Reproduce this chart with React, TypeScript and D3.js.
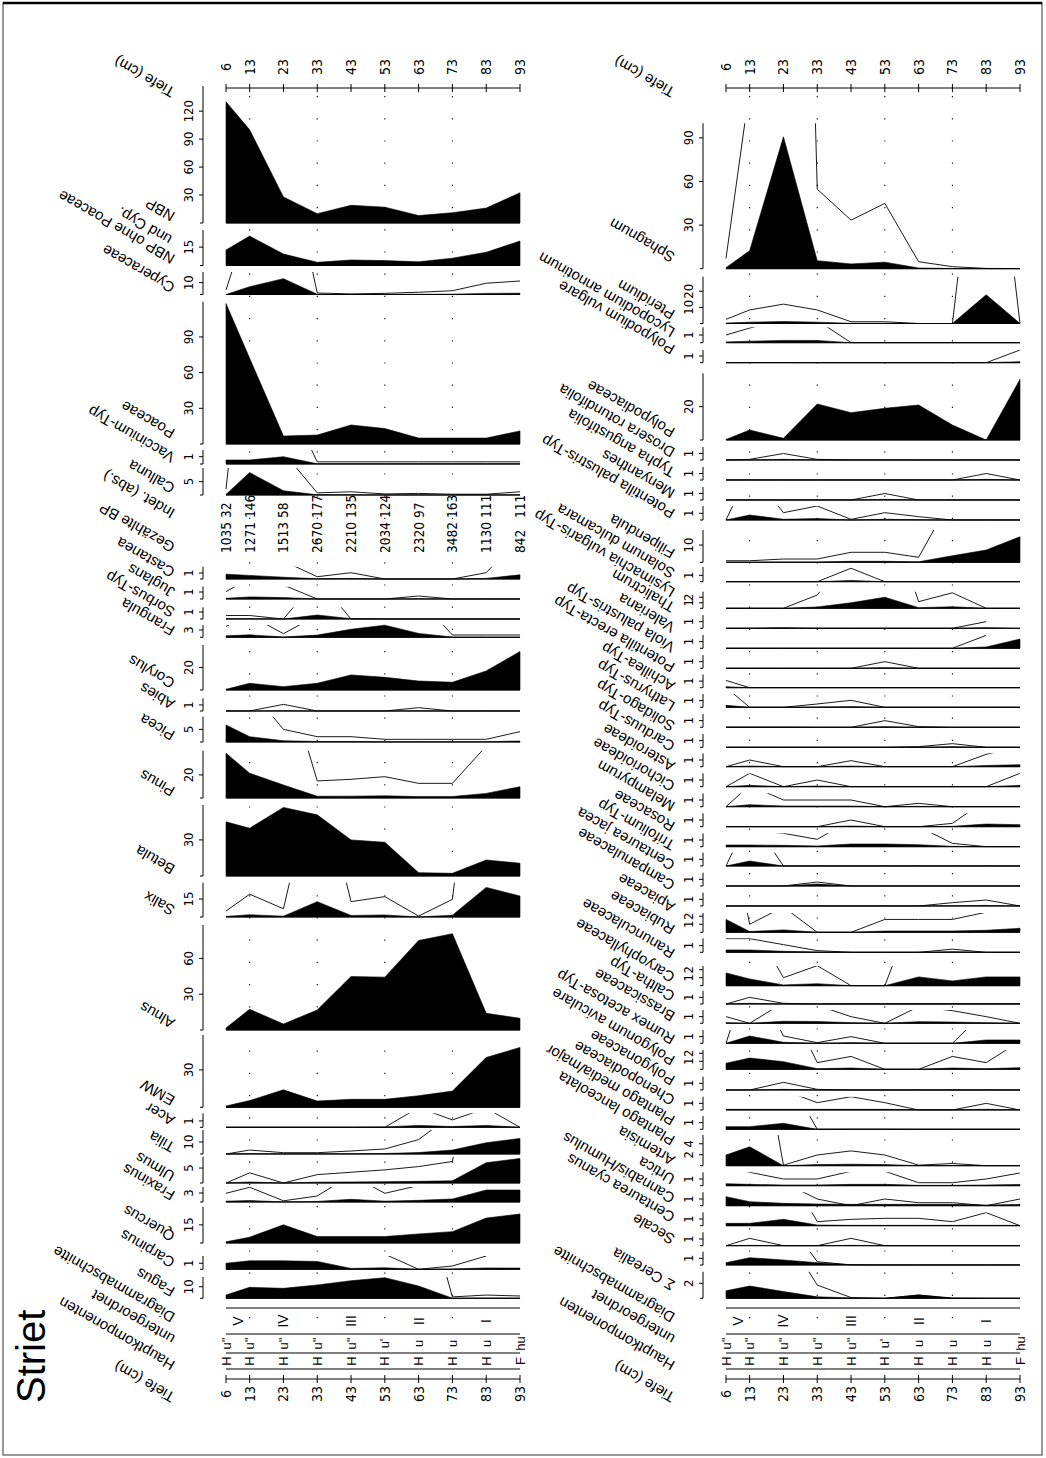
import React from "react";
import * as d3 from "d3";

const depths = [6, 13, 23, 33, 43, 53, 63, 73, 83, 93];
const zoneBounds = [13, 33, 53, 73];
const zoneLabels = ["V", "IV", "III", "II", "I"];
const zoneCentres = [9.5, 23, 43, 63, 83];
const hauptkomponenten = ["H", "H", "H", "H", "H", "H", "H", "H", "H", "F"];
const untergeordnet = ["u''", "u''", "u''", "u''", "u''", "u'", "u", "u", "u", "hu"];
const indetAbs = [32, 146, 58, 177, 135, 124, 97, 163, 111, 111];
const gezaehlteBP = [1035, 1271, 1513, 2670, 2210, 2034, 2320, 3482, 1130, 842];

// ---- left panel values (percent) ; *X = 10x exaggeration curves ----
const nbp = [130, 100, 28, 10, 19, 17, 8, 11, 16, 32.5];
const nbpOhne = [12.7, 24, 9.4, 2.6, 4.5, 4, 3, 6, 10.8, 20];
const cyperaceae = [0, 6.6, 13.4, 0.2, 0.05, 0.1, 0.2, 0.3, 0.95, 1.1];
const cyperaceaeX = [3.8, 66, 134, 1.3, 0.5, 1, 1.9, 3.2, 9.5, 11.4];
const poaceae = [118, 72, 6.7, 7.5, 16, 13, 5, 5, 5, 11];
const vaccinium = [0.55, 0.55, 1, 0.03, 0.03, 0.03, 0.03, 0.03, 0.03, 0.03];
const vacciniumX = [5.5, 5.5, 10, 0.3, 0.3, 0.3, 0.3, 0.3, 0.3, 0.3];
const calluna = [0.22, 8.4, 1.6, 0.08, 0.12, 0.04, 0.06, 0.03, 0.03, 0.12];
const callunaX = [2.2, 84, 16, 0.8, 1.2, 0.4, 0.6, 0.3, 0.3, 1.2];
const castanea = [0.8, 0.6, 0.3, 0.04, 0.1, 0, 0, 0, 0.1, 0.7];
const castaneaX = [8, 6, 3, 0.38, 1.05, 0, 0, 0, 1.05, 7];
const juglans = [0.1, 0.3, 0.2, 0, 0, 0, 0.04, 0, 0, 0];
const juglansX = [1.04, 3, 2, 0, 0, 0, 0.43, 0, 0, 0];
const sorbus = [0.05, 0.05, 0, 0.57, 0.05, 0, 0, 0, 0, 0];
const sorbusX = [0.5, 0.5, 0, 5.7, 0, 0, 0, 0, 0, 0];
const frangula = [0.6, 1, 0.15, 0.9, 3.3, 5, 1.6, 0.1, 0.1, 0.1];
const frangulaX = [4.5, 9, 1.5, 9, 33, 50, 16, 0.95, 0.95, 0.95];
const corylus = [0.6, 6, 3, 6, 13.4, 11.3, 8, 6.9, 17, 34.2];
const abies = [0, 0, 0.05, 0, 0, 0, 0.03, 0, 0, 0];
const abiesX = [0, 0, 1.1, 0, 0, 0, 0.55, 0, 0, 0];
const picea = [6.7, 2.1, 0.5, 0.21, 0.21, 0.11, 0.11, 0.11, 0.11, 0.41];
const piceaX = [67, 21, 5, 2.1, 2.1, 1.06, 1.06, 1.06, 1.06, 4.1];
const pinus = [38.8, 21.5, 11.3, 1.5, 1.6, 1.85, 1.27, 1.27, 4, 9.8];
const pinusX = [388, 215, 113, 14.8, 16.2, 18.5, 12.7, 12.7, 45, 98];
const betula = [45, 39.7, 57, 50.8, 30, 28, 2.8, 2.2, 13.3, 10.6];
const salix = [0.5, 1.9, 0.7, 12.8, 1.3, 1.7, 0.1, 1.5, 24.7, 17.5];
const salixX = [5, 19, 6.9, 128, 12.8, 17, 0.8, 14.7, 247, 175];
const alnus = [1.7, 17.4, 5, 16.8, 44.8, 44.3, 75, 80.7, 14, 9.8];
const emw = [1, 5.4, 14, 5, 6.4, 6.4, 9.3, 13, 40, 48];
const acer = [0, 0.02, 0, 0.02, 0, 0.05, 0.3, 0.12, 0.3, 0];
const acerX = [0, 0, 0, 0, 0, 0, 3.1, 1.16, 3, 0];
const tilia = [0, 0.33, 0.11, 0.11, 0.25, 0.42, 1.2, 3.3, 9.4, 13];
const tiliaX = [0, 3.3, 1.1, 1.1, 2.5, 4.2, 12, 33, 94, 130];
const ulmus = [0, 0.34, 0, 0.28, 0.36, 0.44, 0.55, 0.72, 6.8, 8.2];
const ulmusX = [0, 3.4, 0, 2.8, 3.6, 4.4, 5.5, 7.2, 68, 82];
const fraxinus = [0.29, 0.49, 0.04, 0.2, 0.9, 0.29, 0.55, 1, 4, 4];
const fraxinusX = [2.9, 4.9, 0.4, 2, 9, 2.9, 5.5, 10, 40, 40];
const quercus = [1, 4.8, 15, 5.3, 5.3, 5.3, 7.5, 9.4, 20.6, 24];
const carpinus = [1, 1.4, 1.4, 1.3, 0.15, 0.25, 0, 0.055, 0.22, 0.2];
const carpinusX = [null, null, null, null, null, 2.5, 0, 0.55, 2.2, null];
const fagus = [2.8, 9.5, 8.6, 11.5, 15.2, 17.8, 10.6, 0.12, 0.28, 0.2];
const fagusX = [28, 95, 86, 115, 152, 178, 106, 1.2, 2.8, 2];

// ---- right panel values ----
const sphagnum = [0.7, 12.4, 90.7, 5.5, 3.3, 4.5, 0.5, 0.14, 0.02, 0.01];
const sphagnumX = [7.1, 124, 907, 54.7, 33.4, 44.9, 4.8, 1.4, 0.2, 0.1];
const pteridium = [0.26, 0.84, 1.2, 0.84, 0.11, 0.11, 0, 0, 17.8, 0];
const pteridiumX = [2.6, 8.4, 12, 8.4, 1.1, 1.1, 0, 0, 178, 0];
const lycopodium = [0.1, 0.19, 0.3, 0.29, 0, 0, 0, 0, 0, 0];
const lycopodiumX = [1, 1.9, 3, 2.9, 0, 0, 0, 0, 0, 0];
const polypodium = [0, 0.02, 0.02, 0, 0, 0, 0, 0, 0, 0.15];
const polypodiumX = [0, 0, 0, 0, 0, 0, 0, 0, 0, 1.9];
const polypodiaceae = [0.3, 6, 1, 21.6, 16.4, 19, 21, 9, 0, 36.4];
const drosera = [0, 0.01, 0.1, 0.01, 0, 0, 0, 0, 0, 0];
const droseraX = [0, 0.1, 1, 0.1, 0, 0, 0, 0, 0, 0];
const typha = [0, 0, 0, 0, 0, 0, 0, 0, 0.1, 0];
const typhaX = [0, 0, 0, 0, 0, 0, 0, 0, 1, 0];
const menyanthes = [0, 0, 0, 0, 0, 0.1, 0, 0, 0, 0];
const menyanthesX = [0, 0, 0, 0, 0, 1, 0, 0, 0, 0];
const potPalustris = [0, 0.75, 0.11, 0.21, 0.01, 0.11, 0.05, 0, 0, 0];
const potPalustrisX = [0, 7.5, 1.1, 2.1, 0.1, 1.1, 0.5, 0, 0, 0];
const filipendula = [0.09, 0.09, 0.19, 0.19, 0.58, 0.58, 0.29, 3.8, 7.1, 14.8];
const filipendulaX = [0.9, 0.9, 1.9, 1.9, 5.8, 5.8, 2.9, 38, 71, 148];
const solanum = [0, 0, 0, 0, 0.2, 0, 0, 0, 0, 0];
const solanumX = [0, 0, 0, 0, 2.1, 0, 0, 0, 0, 0];
const lysimachia = [0, 0, 0, 0.24, 1, 2, 0.12, 0.28, 0, 0];
const lysimachiaX = [0, 0, 0, 2.4, 10, 20, 1.2, 2.8, 0, 0];
const thalictrum = [0, 0, 0.1, 0, 0, 0, 0, 0, 0.1, 0];
const thalictrumX = [0, 0, 0, 0, 0, 0, 0, 0, 1, null];
const valeriana = [0, 0, 0, 0, 0, 0, 0, 0, 0.2, 1.4];
const valerianaX = [0, 0, 0, 0, 0, 0, 0, 0, 1.95, null];
const viola = [0, 0, 0, 0, 0, 0.1, 0, 0, 0, 0];
const violaX = [0, 0, 0, 0, 0, 1, 0, 0, 0, 0];
const potErecta = [0.15, 0, 0, 0, 0, 0, 0, 0, 0, 0];
const potErectaX = [1.1, 0, 0, 0, 0, 0, 0, 0, 0, 0];
const achillea = [0.3, 0, 0, 0.05, 0.1, 0, 0, 0, 0, 0];
const achilleaX = [3, 0, 0, 0.5, 1.05, 0, 0, 0, 0, 0];
const lathyrus = [0.05, 0.05, 0.05, 0, 0, 0.1, 0.01, 0, 0, 0];
const lathyrusX = [0, 0, 0, 0, 0, 1, 0.1, 0, 0, 0];
const solidago = [0, 0, 0, 0, 0, 0, 0.02, 0.1, 0, 0];
const solidagoX = [0, 0, 0, 0, 0, 0, 0.1, 0.55, 0, 0];
const carduus = [0, 0.1, 0, 0, 0.09, 0, 0, 0, 0.18, 0.3];
const carduusX = [0, 1, 0, 0, 0.9, 0, 0, 0, 1.85, 3];
const asteroideae = [0, 0.2, 0, 0.1, 0, 0, 0, 0, 0, 0.2];
const asteroideaeX = [0, 2, 0, 1, 0, 0, 0, 0, 0, 2];
const cichorioideae = [0, 0.3, 0.1, 0.1, 0.1, 0, 0.05, 0, 0, 0];
const cichorioideaeX = [0, 3.2, 1, 1, 1, 0, 0.5, 0, 0, 0];
const melampyrum = [0, 0, 0, 0, 0.1, 0, 0, 0.05, 0.4, 0.3];
const melampyrumX = [0, 0, 0, 0, 1, 0, 0, 0.5, 4, 3];
const rosaceae = [0.25, 0.25, 0.2, 0.11, 0.4, 0.4, 0.3, 0.05, 0, 0];
const rosaceaeX = [2.5, 2.5, 2, 1.1, 4, 4, 3, 0.5, 0, 0];
const trifolium = [0, 0.75, 0, 0, 0, 0, 0, 0, 0, 0];
const trifoliumX = [0, 7.5, 0, 0, 0, 0, 0, 0, 0, 0];
const centJacea = [0, 0, 0, 0.3, 0, 0, 0, 0, 0, 0];
const centJaceaX = [0, 0, 0, 0.6, 0, 0, 0, 0, 0, 0];
const campanulaceae = [0, 0, 0, 0, 0, 0, 0, 0.05, 0.09, 0];
const campanulaceaeX = [0, 0, 0, 0, 0, 0, 0, 0.5, 0.9, 0];
const apiaceae = [1.6, 0.1, 0.3, 0, 0, 0.16, 0.16, 0.16, 0.25, 0.5];
const apiaceaeX = [16, 1, 3.15, 0, 0, 1.6, 1.6, 1.6, 2.5, 5];
const rubiaceae = [0.35, 0.35, 0.15, 0.05, 0, 0, 0, 0.1, 0, 0];
const rubiaceaeX = [2.05, 2.05, 1.15, 0.25, 0, 0, 0, 0.47, 0, 0];
const ranunculaceae = [1.6, 0.84, 0.1, 0.25, 0, 0, 1.1, 0.6, 1.1, 1.1];
const ranunculaceaeX = [16, 8.4, 1, 2.5, 0, 0, 11, 6, 11, 11];
const caryophyllaceae = [0, 0.1, 0.01, 0, 0.02, 0.02, 0.02, 0.02, 0.02, 0.02];
const caryophyllaceaeX = [0, 1, 0.1, 0, 0, 0, 0, 0, 0, 0];
const caltha = [0.1, 0, 0.3, 0.27, 0.1, 0, 0.25, 0.19, 0.1, 0];
const calthaX = [1, 0, 3.1, 2.7, 1, 0, 2.5, 1.9, 1, 0];
const brassicaceae = [0, 1.1, 0.15, 0.01, 0.1, 0, 0, 0, 0.5, 0.5];
const brassicaceaeX = [0, 11, 1.1, 0.1, 1, 0, 0, 0, 5, 5];
const rumex = [0.75, 1.4, 0.95, 0.08, 0.16, 0, 0, 0.16, 0.08, 0.2];
const rumexX = [7.5, 14, 9.5, 0.83, 1.6, 0, 0, 1.6, 0.83, 3.5];
const polygonumAv = [0, 0, 0.1, 0.01, 0, 0, 0, 0, 0, 0];
const polygonumAvX = [0, 0, 1.15, 0.1, 0, 0, 0, 0, 0, 0];
const polygonaceae = [0.1, 0.1, 0.1, 0.1, 0.1, 0.1, 0.05, 0.05, 0.1, 0.05];
const polygonaceaeX = [4, 4, 3, 1.1, 2, 1.1, 0, 0, 1, 0];
const chenopodiaceae = [0.4, 0.4, 0.9, 0, 0.02, 0.02, 0, 0, 0, 0];
const chenopodiaceaeX = [4, 4, 9, 0, 0, 0, 0, 0, 0, 0];
const plantagoLanc = [1.95, 3.45, 0.01, 0.2, 0.27, 0.2, 0.01, 0.04, 0, 0];
const plantagoLancX = [19.5, 34.5, 0.1, 1.95, 2.7, 1.95, 0.1, 0.4, 0, 0];
const artemisia = [0.3, 0.2, 0.1, 0.1, 0.2, 0.2, 0.05, 0.05, 0.1, 0.19];
const artemisiaX = [3, 2, 1, 1, 2.15, 2.15, 0.45, 0.45, 1, 1.9];
const urtica = [1.35, 0.6, 0.35, 0.25, 0.2, 0.2, 0.2, 0.2, 0.1, 0.2];
const urticaX = [13.5, 6, 3.5, 1, 0, 1, 0.45, 0.45, 0, 1];
const cannabis = [0.35, 0.35, 0.95, 0.1, 0.05, 0.05, 0.05, 0.05, 0.05, 0.05];
const cannabisX = [3.5, 3.5, 9.5, 0.6, 0.95, 1.1, 1.1, 0.6, 1.95, 0];
const centCyanus = [0, 0.05, 0, 0, 0.05, 0, 0, 0, 0, 0];
const centCyanusX = [0, 1.1, 0, 0, 1.1, 0, 0, 0, 0, 0];
const secale = [0.35, 1.1, 0.75, 0.35, 0.05, 0, 0, 0, 0, 0];
const secaleX = [3.5, 11, 7.5, 0.5, 0, 0, 0, 0, 0, 0];
const cerealia = [1, 1.64, 0.9, 0.2, 0.05, 0, 0.44, 0.05, 0, 0];
const cerealiaX = [10, 16, 9, 1.77, 0.1, 0, 0.44, 0, 0, 0];

// ---- layout tables (strip top / baseline in px, scale maximum, ticks, label anchor) ----
type Strip = {
  label: string[];
  vals: number[];
  ex?: (number | null)[];
  max: number;
  ticks: number[];
  top: number;
  base: number;
  ly?: number;
};

const leftStrips: Strip[] = [
  { label: ["NBP"], vals: nbp, max: 147, ticks: [30, 60, 90, 120], top: 86, base: 223 },
  { label: ["NBP ohne Poaceae", "und Cyp."], vals: nbpOhne, max: 29, ticks: [15], top: 230, base: 265.5 },
  { label: ["Cyperaceae"], vals: cyperaceae, ex: cyperaceaeX, max: 19, ticks: [10], top: 272, base: 294.5 },
  { label: ["Poaceae"], vals: poaceae, max: 119.6, ticks: [30, 60, 90], top: 301.7, base: 444, ly: 430 },
  { label: ["Vaccinium-Typ"], vals: vaccinium, ex: vacciniumX, max: 1.92, ticks: [1], top: 450, base: 464 },
  { label: ["Calluna"], vals: calluna, ex: callunaX, max: 10.1, ticks: [5], top: 468, base: 495 },
  { label: ["Castanea"], vals: castanea, ex: castaneaX, max: 2.05, ticks: [1], top: 566.7, base: 579 },
  { label: ["Juglans"], vals: juglans, ex: juglansX, max: 1.76, ticks: [1], top: 586.7, base: 599 },
  { label: ["Sorbus-Typ"], vals: sorbus, ex: sorbusX, max: 1.67, ticks: [1], top: 607.3, base: 619 },
  { label: ["Frangula"], vals: frangula, ex: frangulaX, max: 5.06, ticks: [3], top: 625, base: 637.3 },
  { label: ["Corylus"], vals: corylus, max: 40, ticks: [20], top: 645, base: 690 },
  { label: ["Abies"], vals: abies, ex: abiesX, max: 2.1, ticks: [1], top: 698.3, base: 711 },
  { label: ["Picea"], vals: picea, ex: piceaX, max: 10, ticks: [5], top: 716.7, base: 742 },
  { label: ["Pinus"], vals: pinus, ex: pinusX, max: 41, ticks: [20], top: 750.7, base: 798 },
  { label: ["Betula"], vals: betula, max: 59, ticks: [30], top: 805, base: 876 },
  { label: ["Salix"], vals: salix, ex: salixX, max: 28.6, ticks: [15], top: 882.7, base: 917 },
  { label: ["Alnus"], vals: alnus, max: 88, ticks: [30, 60], top: 925, base: 1030 },
  { label: ["EMW"], vals: emw, max: 58, ticks: [30], top: 1035, base: 1107.3 },
  { label: ["Acer"], vals: acer, ex: acerX, max: 2.2, ticks: [1], top: 1113.3, base: 1127.3 },
  { label: ["Tilia"], vals: tilia, ex: tiliaX, max: 20, ticks: [10], top: 1130, base: 1154 },
  { label: ["Ulmus"], vals: ulmus, ex: ulmusX, max: 8.8, ticks: [5], top: 1156.7, base: 1183 },
  { label: ["Fraxinus"], vals: fraxinus, ex: fraxinusX, max: 5, ticks: [3], top: 1187, base: 1202 },
  { label: ["Quercus"], vals: quercus, max: 30, ticks: [15], top: 1206.7, base: 1243 },
  { label: ["Carpinus"], vals: carpinus, ex: carpinusX, max: 2.2, ticks: [1], top: 1256, base: 1269.3 },
  { label: ["Fagus"], vals: fagus, ex: fagusX, max: 18.4, ticks: [10], top: 1277, base: 1298.3 },
];

const rightStrips: Strip[] = [
  { label: ["Sphagnum"], vals: sphagnum, ex: sphagnumX, max: 100, ticks: [30, 60, 90], top: 123.3, base: 268.7, ly: 254 },
  { label: ["Pteridium"], vals: pteridium, ex: pteridiumX, max: 29, ticks: [10, 20], top: 276.7, base: 323.5, ly: 311 },
  { label: ["Lycopodium annotinum"], vals: lycopodium, ex: lycopodiumX, max: 2, ticks: [1], top: 327.3, base: 342.7, ly: 329 },
  { label: ["Polypodium vulgare"], vals: polypodium, ex: polypodiumX, max: 1.9, ticks: [1], top: 350, base: 362.7, ly: 346 },
  { label: ["Polypodiaceae"], vals: polypodiaceae, max: 40, ticks: [20], top: 373.3, base: 440, ly: 429 },
  { label: ["Drosera rotundifolia"], vals: drosera, ex: droseraX, max: 2, ticks: [1], top: 447, base: 460, ly: 449 },
  { label: ["Typha angustifolia"], vals: typha, ex: typhaX, max: 2, ticks: [1], top: 467, base: 480, ly: 469 },
  { label: ["Menyanthes"], vals: menyanthes, ex: menyanthesX, max: 2, ticks: [1], top: 487, base: 500, ly: 490 },
  { label: ["Potentilla palustris-Typ"], vals: potPalustris, ex: potPalustrisX, max: 2.1, ticks: [1], top: 506, base: 520, ly: 510 },
  { label: ["Filipendula"], vals: filipendula, ex: filipendulaX, max: 18.7, ticks: [10], top: 530, base: 562.3, ly: 550 },
  { label: ["Solanum dulcamara"], vals: solanum, ex: solanumX, max: 2.3, ticks: [1], top: 567, base: 581.7, ly: 570 },
  { label: ["Lysimachia vulgaris-Typ"], vals: lysimachia, ex: lysimachiaX, max: 3, ticks: [1, 2], top: 591.7, base: 608.3, ly: 589 },
  { label: ["Thalictrum"], vals: thalictrum, ex: thalictrumX, max: 2, ticks: [1], top: 615, base: 628.3, ly: 604 },
  { label: ["Valeriana"], vals: valeriana, ex: valerianaX, max: 2, ticks: [1], top: 635, base: 648.3, ly: 624 },
  { label: ["Viola palustris-Typ"], vals: viola, ex: violaX, max: 2, ticks: [1], top: 655, base: 668.3, ly: 644 },
  { label: ["Potentilla erecta-Typ"], vals: potErecta, ex: potErectaX, max: 2, ticks: [1], top: 674.5, base: 687.7, ly: 664 },
  { label: ["Achillea-Typ"], vals: achillea, ex: achilleaX, max: 2, ticks: [1], top: 694, base: 707.3, ly: 683 },
  { label: ["Lathyrus-Typ"], vals: lathyrus, ex: lathyrusX, max: 2, ticks: [1], top: 714, base: 727.3, ly: 703 },
  { label: ["Solidago-Typ"], vals: solidago, ex: solidagoX, max: 2, ticks: [1], top: 734, base: 747.3, ly: 723 },
  { label: ["Carduus-Typ"], vals: carduus, ex: carduusX, max: 2, ticks: [1], top: 753.3, base: 766.7, ly: 743 },
  { label: ["Asteroideae"], vals: asteroideae, ex: asteroideaeX, max: 2, ticks: [1], top: 773.3, base: 786.7, ly: 763 },
  { label: ["Cichorioideae"], vals: cichorioideae, ex: cichorioideaeX, max: 2, ticks: [1], top: 793.3, base: 806.7, ly: 783 },
  { label: ["Melampyrum"], vals: melampyrum, ex: melampyrumX, max: 2, ticks: [1], top: 813.3, base: 826.7, ly: 803 },
  { label: ["Rosaceae"], vals: rosaceae, ex: rosaceaeX, max: 2, ticks: [1], top: 833.3, base: 846.7, ly: 823 },
  { label: ["Trifolium-Typ"], vals: trifolium, ex: trifoliumX, max: 2, ticks: [1], top: 852.7, base: 866, ly: 842 },
  { label: ["Centaurea jacea"], vals: centJacea, ex: centJaceaX, max: 2, ticks: [1], top: 872.7, base: 886, ly: 862 },
  { label: ["Campanulaceae"], vals: campanulaceae, ex: campanulaceaeX, max: 2, ticks: [1], top: 892.7, base: 906, ly: 882 },
  { label: ["Apiaceae"], vals: apiaceae, ex: apiaceaeX, max: 2.4, ticks: [1, 2], top: 913, base: 932.3, ly: 904 },
  { label: ["Rubiaceae"], vals: rubiaceae, ex: rubiaceaeX, max: 2.1, ticks: [1], top: 938.3, base: 952.3, ly: 926 },
  { label: ["Ranunculaceae"], vals: ranunculaceae, ex: ranunculaceaeX, max: 2.46, ticks: [1, 2], top: 966, base: 985.7, ly: 950 },
  { label: ["Caryophyllaceae"], vals: caryophyllaceae, ex: caryophyllaceaeX, max: 2, ticks: [1], top: 990.7, base: 1004, ly: 974 },
  { label: ["Caltha-Typ"], vals: caltha, ex: calthaX, max: 2, ticks: [1], top: 1010, base: 1023.3, ly: 993 },
  { label: ["Brassicaceae"], vals: brassicaceae, ex: brassicaceaeX, max: 2, ticks: [1], top: 1030, base: 1043.3, ly: 1013 },
  { label: ["Rumex acetosa-Typ"], vals: rumex, ex: rumexX, max: 2.4, ticks: [1, 2], top: 1050, base: 1069.3, ly: 1036 },
  { label: ["Polygonum aviculare"], vals: polygonumAv, ex: polygonumAvX, max: 2, ticks: [1], top: 1076.7, base: 1090, ly: 1057 },
  { label: ["Polygonaceae"], vals: polygonaceae, ex: polygonaceaeX, max: 2, ticks: [1], top: 1096.7, base: 1110, ly: 1077 },
  { label: ["Chenopodiaceae"], vals: chenopodiaceae, ex: chenopodiaceaeX, max: 2, ticks: [1], top: 1116, base: 1129.3, ly: 1097 },
  { label: ["Plantago lanceolata"], vals: plantagoLanc, ex: plantagoLancX, max: 5.6, ticks: [2, 4], top: 1135, base: 1165.7, ly: 1137 },
  { label: ["Artemisia"], vals: artemisia, ex: artemisiaX, max: 2, ticks: [1], top: 1172.3, base: 1185.7, ly: 1157 },
  { label: ["Urtica"], vals: urtica, ex: urticaX, max: 2, ticks: [1], top: 1192.3, base: 1205.7, ly: 1176 },
  { label: ["Cannabis/Humulus"], vals: cannabis, ex: cannabisX, max: 2, ticks: [1], top: 1212.3, base: 1225.7, ly: 1195 },
  { label: ["Centaurea cyanus"], vals: centCyanus, ex: centCyanusX, max: 2, ticks: [1], top: 1232.3, base: 1245.7, ly: 1214 },
  { label: ["Secale"], vals: secale, ex: secaleX, max: 2, ticks: [1], top: 1251.7, base: 1265, ly: 1236 },
  { label: ["Σ Cerealia"], vals: cerealia, ex: cerealiaX, max: 3.55, ticks: [2], top: 1271.7, base: 1298.3, ly: 1282 },
];

const looseRightLabels = [{ text: "Plantago media/major", y: 1117 }];

const FONT = "'Liberation Sans', Arial, Helvetica, sans-serif";
const NARROW = "'Liberation Sans Narrow', 'Arial Narrow', 'DejaVu Sans Condensed', sans-serif";
const LABEL_ROT = 210;

function Label({ x, y, lines, size = 15 }: { x: number; y: number; lines: string[]; size?: number }) {
  return (
    <text transform={`translate(${x},${y}) rotate(${LABEL_ROT})`} fontFamily={FONT} fontSize={size} fill="#000">
      {lines.map((ln, i) => (
        <tspan key={i} x={i === 0 ? 0 : 12} dy={i === 0 ? 0 : "1.0em"}>
          {ln}
        </tspan>
      ))}
    </text>
  );
}

function VText({ x, y, t, size = 14, anchor = "middle", family = NARROW }: any) {
  return (
    <text
      transform={`translate(${x},${y}) rotate(-90)`}
      textAnchor={anchor}
      dominantBaseline="central"
      fontFamily={family}
      fontSize={size}
      fill="#000"
    >
      {t}
    </text>
  );
}

function StripView({ s, x, axisX, id }: { s: Strip; x: d3.ScaleLinear<number, number>; axisX: number; id: string }) {
  const y = d3.scaleLinear().domain([0, s.max]).range([s.base, s.top]);
  const area = d3
    .area<number>()
    .x((_, i) => x(depths[i]))
    .y0(s.base)
    .y1((v) => y(Math.min(v, s.max)));
  const line = d3
    .line<number | null>()
    .defined((v) => v !== null && v !== undefined)
    .x((_, i) => x(depths[i]))
    .y((v) => y(v as number));
  const x0 = x(depths[0]);
  const x1 = x(depths[depths.length - 1]);
  return (
    <g>
      {s.ex && (
        <>
          <clipPath id={id}>
            <rect x={x0 - 2} y={s.top} width={x1 - x0 + 4} height={s.base - s.top + 0.5} />
          </clipPath>
          <path d={line(s.ex) || ""} fill="none" stroke="#000" strokeWidth={0.9} clipPath={`url(#${id})`} />
        </>
      )}
      <path d={area(s.vals) || ""} fill="#000" stroke="#000" strokeWidth={0.6} />
      <line x1={x0} x2={x1} y1={s.base} y2={s.base} stroke="#000" strokeWidth={1} />
      <line x1={axisX} x2={axisX} y1={s.top} y2={s.base} stroke="#000" strokeWidth={1} />
      {s.ticks.map((t) => (
        <g key={t}>
          <line x1={axisX - 4} x2={axisX} y1={y(t)} y2={y(t)} stroke="#000" strokeWidth={1} />
          <VText x={axisX - 15} y={y(t)} t={String(t)} size={13} />
        </g>
      ))}
      <line x1={axisX - 3} x2={axisX} y1={s.base} y2={s.base} stroke="#000" strokeWidth={1} />
      <Label x={axisX - 27} y={s.ly ?? s.base - 10} lines={s.label} />
    </g>
  );
}

function Panel({ strips, x, axisX, prefix, numbers }: any) {
  const x0 = x(6);
  const x1 = x(93);
  return (
    <g>
      {/* top depth axis */}
      <line x1={x0} x2={x1} y1={88} y2={88} stroke="#000" strokeWidth={1} />
      {depths.map((d) => (
        <g key={d}>
          <line x1={x(d)} x2={x(d)} y1={84} y2={92} stroke="#000" strokeWidth={1} />
          <VText x={x(d)} y={67} t={String(d)} size={14} />
        </g>
      ))}
      <Label x={axisX - 27} y={89} lines={["Tiefe (cm)"]} />

      {/* zone boundaries (dotted) */}
      {zoneBounds.map((b) => (
        <line key={b} x1={x(b)} x2={x(b)} y1={96} y2={1334} stroke="#000" strokeWidth={1.1} strokeDasharray="1.2 21" />
      ))}

      {strips.map((s: Strip, i: number) => (
        <StripView key={i} s={s} x={x} axisX={axisX} id={`${prefix}${i}`} />
      ))}

      {numbers && (
        <g>
          {indetAbs.map((v, i) => (
            <VText key={"i" + i} x={x(depths[i])} y={518} t={String(v)} size={13.5} anchor="start" />
          ))}
          {gezaehlteBP.map((v, i) => (
            <VText key={"g" + i} x={x(depths[i])} y={553} t={String(v)} size={13.5} anchor="start" />
          ))}
          <Label x={axisX - 27} y={510} lines={["Indet. (abs.)"]} />
          <Label x={axisX - 27} y={544} lines={["Gezählte BP"]} />
        </g>
      )}

      {/* bottom rows */}
      {[1308, 1334, 1353, 1369].map((yy) => (
        <line key={yy} x1={x0} x2={x1} y1={yy} y2={yy} stroke="#000" strokeWidth={1} />
      ))}
      {zoneLabels.map((z, i) => (
        <VText key={z} x={x(zoneCentres[i])} y={1321} t={z} size={14} family={FONT} />
      ))}
      {untergeordnet.map((u, i) => (
        <VText key={"u" + i} x={x(depths[i])} y={1343.5} t={u} size={13} family={FONT} />
      ))}
      {hauptkomponenten.map((h, i) => (
        <VText key={"h" + i} x={x(depths[i])} y={1361} t={h} size={13} family={FONT} />
      ))}
      <line x1={x0} x2={x1} y1={1379} y2={1379} stroke="#000" strokeWidth={1} />
      {depths.map((d) => (
        <g key={"b" + d}>
          <line x1={x(d)} x2={x(d)} y1={1375} y2={1383} stroke="#000" strokeWidth={1} />
          <VText x={x(d)} y={1394} t={String(d)} size={14} />
        </g>
      ))}
      <Label x={axisX - 27} y={1314} lines={["Diagrammabschnitte"]} />
      <Label x={axisX - 27} y={1336} lines={["untergeordnet"]} />
      <Label x={axisX - 27} y={1362} lines={["Hauptkomponenten"]} />
      <Label x={axisX - 27} y={1394} lines={["Tiefe (cm)"]} />
    </g>
  );
}

export default function App() {
  const xL = d3.scaleLinear().domain([6, 93]).range([226, 520]);
  const xR = d3.scaleLinear().domain([6, 93]).range([726, 1020]);
  return (
    <svg
      width={1046}
      height={1458}
      viewBox="0 0 1046 1458"
      style={{ position: "absolute", left: 0, top: 0, background: "#fff" }}
    >
      <rect x={0} y={0} width={1046} height={1458} fill="#fff" />
      <rect x={3} y={3} width={1039} height={1452} fill="none" stroke="#555" strokeWidth={1.2} />
      <line x1={3} x2={1042} y1={3} y2={3} stroke="#000" strokeWidth={2.5} />
      <Panel strips={leftStrips} x={xL} axisX={203} prefix="L" numbers={true} />
      <Panel strips={rightStrips} x={xR} axisX={703} prefix="R" numbers={false} />
      {looseRightLabels.map((l) => (
        <Label key={l.text} x={676} y={l.y} lines={[l.text]} />
      ))}
      <text transform="translate(45,1403) rotate(-90)" fontFamily={FONT} fontSize={40} fill="#000">
        Striet
      </text>
    </svg>
  );
}
